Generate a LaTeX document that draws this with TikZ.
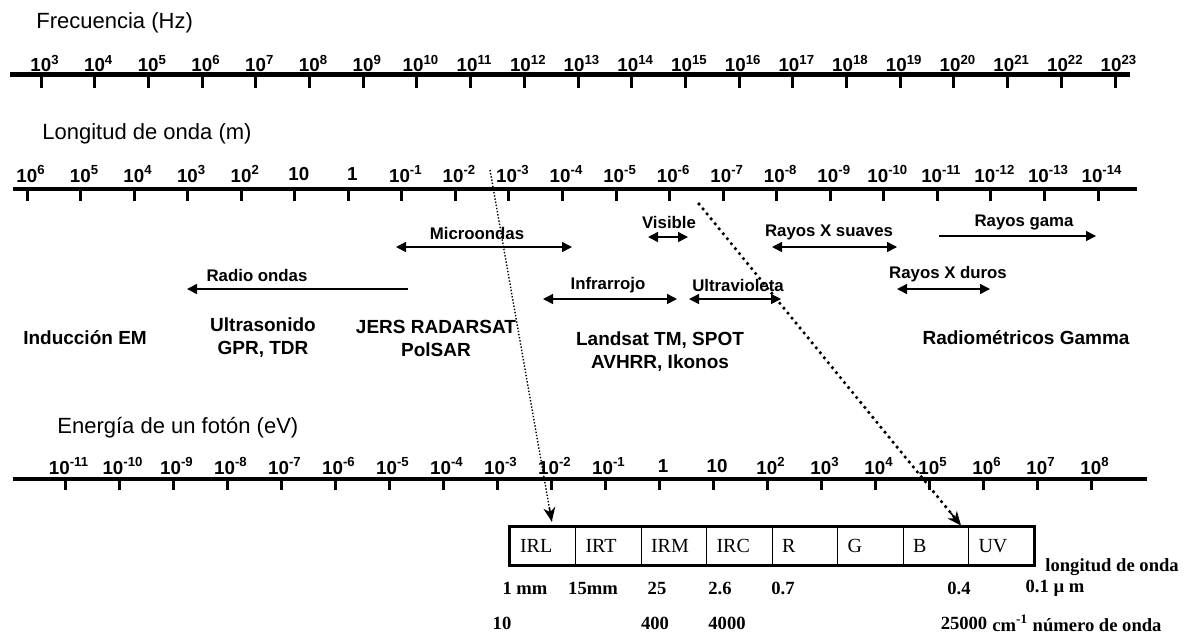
\documentclass[tikz,border=0pt]{standalone}
\usepackage{fontspec}
\setmainfont{Liberation Sans}
\newfontfamily\timesfont{Liberation Serif}
\usepackage{tikz}
\usetikzlibrary{calc, positioning, arrows.meta}

\begin{document}
\begin{tikzpicture}[x=0.5pt, y=-0.5pt, >={Triangle[length=5pt, width=5pt]},
  axisline/.style={line width=2.2pt},
  tickmark/.style={line width=1.5pt},
  ticklbl/.style={font=\fontsize{9.4}{10}\selectfont\bfseries, inner sep=0pt},
  axistitle/.style={font=\fontsize{11}{13}\selectfont, anchor=west, inner sep=0pt},
  band/.style={line width=0.75pt},
  bandlbl/.style={font=\fontsize{8.4}{10}\selectfont\bfseries, inner sep=0pt},
  sensor/.style={font=\fontsize{9.5}{11.5}\selectfont\bfseries, align=center, inner sep=0pt},
  cell/.style={draw, line width=0.5pt, minimum height=19pt, text width=22.75pt, inner xsep=5pt, align=left, font=\timesfont\fontsize{10}{12}\selectfont},
  scalelbl/.style={font=\timesfont\fontsize{9.3}{11}\selectfont\bfseries, inner sep=0pt},
  fine dots/.style={line width=0.7pt, dash pattern=on 0.7pt off 0.9pt},
  big dots/.style={line width=1.8pt, line cap=round, dash pattern=on 0pt off 3.2pt},
  zoomtip/.style={line width=0.8pt, -{Stealth[length=7pt, width=6pt]}}]
  \useasboundingbox (0,0) rectangle (1186,634);

  % frequency axis
  \node[axistitle] (ftitle) at (36,23) {Frecuencia (Hz)};
  \draw[axisline] (10,74.5) -- (1130,74.5);
  \foreach \i in {0,...,20} {
    \pgfmathsetmacro{\fx}{41+53.7*\i}
    \pgfmathtruncatemacro{\fe}{3+\i}
    \draw[tickmark] (\fx,74.5) -- (\fx,88);
    \node[ticklbl] (f\i) at (\fx+4,63.5) {10\textsuperscript{\fe}};
  }

  % wavelength axis
  \node[axistitle] (wtitle) at (42,134) {Longitud de onda (m)};
  \draw[axisline] (13,189) -- (1137,189);
  \foreach \w [count=\i from 0] in {10\textsuperscript{6},10\textsuperscript{5},10\textsuperscript{4},
      10\textsuperscript{3},10\textsuperscript{2},10,1,10\textsuperscript{-1},10\textsuperscript{-2},
      10\textsuperscript{-3},10\textsuperscript{-4},10\textsuperscript{-5},10\textsuperscript{-6},
      10\textsuperscript{-7},10\textsuperscript{-8},10\textsuperscript{-9},10\textsuperscript{-10},
      10\textsuperscript{-11},10\textsuperscript{-12},10\textsuperscript{-13},10\textsuperscript{-14}} {
    \pgfmathsetmacro{\wx}{27+53.55*\i}
    \draw[tickmark] (\wx,189) -- (\wx,201);
    \node[ticklbl] (w\i) at (\wx+4,174) {\w};
  }

  % bands
  \coordinate (mw-l) at (396,247); \coordinate (mw-r) at (572,247);
  \draw[band, <->] (mw-l) -- (mw-r);
  \node[bandlbl] (mw) at (477,233) {Microondas};
  \coordinate (ro-l) at (187,289); \coordinate (ro-r) at (408,289);
  \draw[band, <-] (ro-l) -- (ro-r);
  \node[bandlbl] (ro) at (257,275) {Radio ondas};
  \coordinate (vis-l) at (648,237); \coordinate (vis-r) at (688,237);
  \draw[band, <->] (vis-l) -- (vis-r);
  \node[bandlbl] (vis) at (669,222) {Visible};
  \coordinate (ir-l) at (543,299); \coordinate (ir-r) at (677,299);
  \draw[band, <->] (ir-l) -- (ir-r);
  \node[bandlbl] (ir) at (608,285) {Infrarrojo};
  \coordinate (uv-l) at (689,299); \coordinate (uv-r) at (781,299);
  \draw[band, <->] (uv-l) -- (uv-r);
  \node[bandlbl] (uvl) at (738,285) {Ultravioleta};
  \coordinate (xs-l) at (772,247); \coordinate (xs-r) at (897,247);
  \draw[band, <->] (xs-l) -- (xs-r);
  \node[bandlbl] (xs) at (829,232) {Rayos X suaves};
  \coordinate (xd-l) at (897,289); \coordinate (xd-r) at (990,289);
  \draw[band, <->] (xd-l) -- (xd-r);
  \node[bandlbl] (xd) at (948,274) {Rayos X duros};
  \coordinate (gm-l) at (939,236); \coordinate (gm-r) at (1096,236);
  \draw[band, ->] (gm-l) -- (gm-r);
  \node[bandlbl] (gm) at (1024,222) {Rayos gama};

  % sensors
  \node[sensor] (ind) at (85,338) {Inducción EM};
  \node[sensor] (ultra) at (263,338) {Ultrasonido\\GPR, TDR};
  \node[sensor] (jers) at (436,338) {JERS RADARSAT\\PolSAR};
  \node[sensor] (land) at (660,352) {Landsat TM, SPOT\\AVHRR, Ikonos};
  \node[sensor] (rad) at (1026,338) {Radiométricos Gamma};

  % photon energy axis
  \node[axistitle] (etitle) at (57,428) {Energía de un fotón (eV)};
  \draw[axisline] (13,479) -- (1147,479);
  \foreach \e [count=\i from 0] in {10\textsuperscript{-11},10\textsuperscript{-10},10\textsuperscript{-9},
      10\textsuperscript{-8},10\textsuperscript{-7},10\textsuperscript{-6},10\textsuperscript{-5},
      10\textsuperscript{-4},10\textsuperscript{-3},10\textsuperscript{-2},10\textsuperscript{-1},1,10,
      10\textsuperscript{2},10\textsuperscript{3},10\textsuperscript{4},10\textsuperscript{5},
      10\textsuperscript{6},10\textsuperscript{7},10\textsuperscript{8}} {
    \pgfmathsetmacro{\ex}{65+54*\i}
    \draw[tickmark] (\ex,479) -- (\ex,490);
    \node[ticklbl] (e\i) at (\ex+4,466) {\e};
  }

  % optical bands
  \foreach \c [count=\i from 0] in {IRL,IRT,IRM,IRC,R,G,B,UV}
    \node[cell] (c\i) at ({542.75+65.5*\i},546) {\c};
  \draw[line width=1.5pt] (c0.north west) rectangle (c7.south east);
  \node[scalelbl, anchor=west] (lw) at (1045,567) {longitud de onda};

  \node[scalelbl] (s1) at (525,588) {1 mm};
  \node[scalelbl] (s2) at (593,588) {15mm};
  \node[scalelbl] (s3) at (657,588) {25};
  \node[scalelbl] (s4) at (720,588) {2.6};
  \node[scalelbl] (s5) at (783,588) {0.7};
  \node[scalelbl] (s6) at (959,588) {0.4};
  \node[scalelbl] (s7) at (1055,588) {0.1 µ m};

  \node[scalelbl] (k1) at (502,623) {10};
  \node[scalelbl] (k2) at (655,623) {400};
  \node[scalelbl] (k3) at (727,623) {4000};
  \node[scalelbl] (k4) at (964,623) {25000};
  \node[scalelbl, anchor=west] (k5) at (992,623) {cm\textsuperscript{-1} número de onda};

  % zoom lines
  \coordinate (mm) at (490,170);
  \coordinate (mm-end) at ([xshift=4.5pt, yshift=2.5pt]c0.north);
  \coordinate (nm) at (699,204);
  \coordinate (nm-end) at ([xshift=-4pt, yshift=0.5pt]c6.north east);
  \draw[fine dots] (mm) -- (mm-end);
  \draw[zoomtip] ($(mm)!0.96!(mm-end)$) -- (mm-end);
  \draw[big dots] (nm) -- (nm-end);
  \draw[zoomtip] ($(nm)!0.96!(nm-end)$) -- (nm-end);
\end{tikzpicture}
\end{document}
